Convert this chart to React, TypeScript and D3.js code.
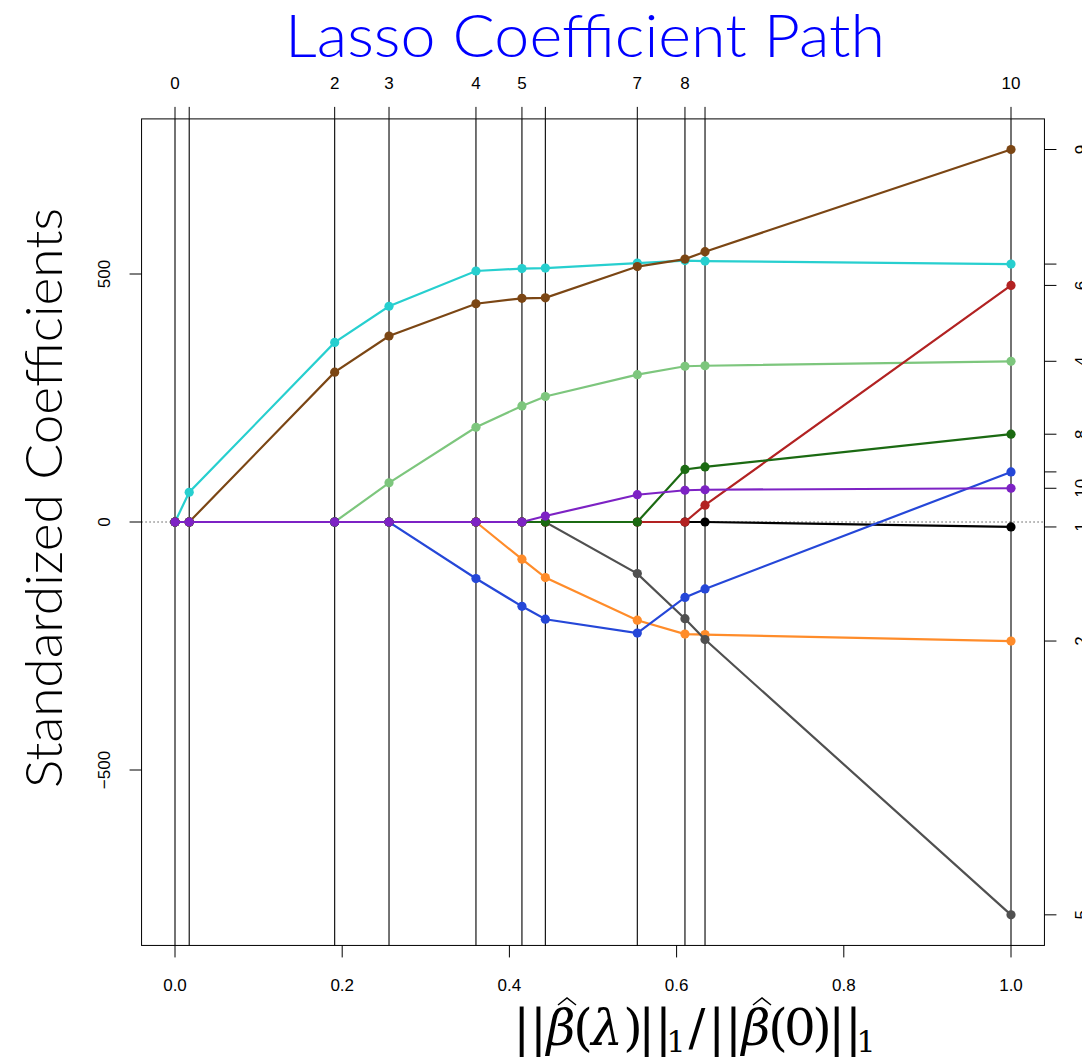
import { scaleLinear, line } from "d3";

// fraction of the L1 norm at each lars step
const steps = [0, 0.017, 0.191, 0.256, 0.36, 0.415, 0.443, 0.553, 0.61, 0.634, 1.0];
// number of active variables at each step (top axis), null = label dropped
const topLabels = ["0", null, "2", "3", "4", "5", null, "7", "8", null, "10"];

const varNames = ["1", "2", "3", "4", "5", "6", "7", "8", "9", "10"];
const varColors = [
  "#000000", "#ff8c2a", "#27cfcf", "#7dc67d", "#505050",
  "#b22222", "#2547d8", "#1b6a12", "#7b4614", "#7d22c4",
];
// coefficient paths, one array per variable
const age = [0, 0, 0, 0, 0, 0, 0, 0, 0, 0, -10];
const sex = [0, 0, 0, 0, 0, -75, -112, -198, -226, -227, -240];
const bmi = [0, 60, 362, 435, 506, 511, 512, 522, 527, 526, 520];
const map = [0, 0, 0, 79, 191, 234, 253, 297, 314, 315, 324];
const tc = [0, 0, 0, 0, 0, 0, 0, -104, -195, -237, -792];
const ldl = [0, 0, 0, 0, 0, 0, 0, 0, 0, 34, 477];
const hdl = [0, 0, 0, 0, -114, -170, -196, -224, -152, -135, 101];
const tch = [0, 0, 0, 0, 0, 0, 0, 0, 106, 111, 177];
const ltg = [0, 0, 302, 375, 440, 451, 452, 515, 530, 545, 751];
const glu = [0, 0, 0, 0, 0, 0, 12, 55, 64, 65, 68];
const paths = [age, sex, bmi, map, tc, ldl, hdl, tch, ltg, glu];
// right axis labels that R kept (3 and 7 overlap and are dropped)
const rightShown = [true, true, false, true, true, true, false, true, true, true];

const xTicks = [0, 0.2, 0.4, 0.6, 0.8, 1.0];
const yTicks = [-500, 0, 500];

const W = 1082;
const H = 1060;

// pieces of the x-axis math label: [text, centre x, italic, subscript]
const xLabelParts: [string, number, boolean, boolean][] = [
  ["||", 530, false, false],
  ["\u03B2", 561, true, false],
  ["(", 583, false, false],
  ["\u03BB", 607, true, false],
  [")", 633, false, false],
  ["||", 655, false, false],
  ["1", 676, false, true],
  ["/", 697, false, false],
  ["||", 725, false, false],
  ["\u03B2", 756, true, false],
  ["(", 778, false, false],
  ["0", 800, false, false],
  [")", 822, false, false],
  ["||", 845, false, false],
  ["1", 866, false, true],
];
const hats = [567, 762];

export default function App() {
  const x = scaleLinear().domain([0, 1]).range([175, 1011]);
  const y = scaleLinear().domain([0, 500]).range([522, 274]);
  const left = x(-0.04), right = x(1.04);
  const top = y(812.7), bottom = y(-853.7);

  const lineGen = line<number>()
    .x((_, i) => x(steps[i]))
    .y((d) => y(d));

  const tickFont = { fontFamily: "'Liberation Sans', Arial, sans-serif", fontSize: 17 };
  const sansTitle = "Lato, 'Noto Sans', sans-serif";
  const serif = "'DejaVu Serif', 'Liberation Serif', serif";

  return (
    <div style={{ position: "absolute", left: 0, top: 0 }}>
      <svg width={W} height={H} style={{ display: "block", background: "#fff" }}>
        {/* title */}
        <text x={585} y={57} textAnchor="middle" fill="#0000ff"
          style={{ fontFamily: sansTitle, fontSize: 60, fontWeight: 300 }}
          textLength={600} lengthAdjust="spacingAndGlyphs">
          Lasso Coefficient Path
        </text>

        {/* zero reference */}
        <line x1={left} x2={right} y1={y(0)} y2={y(0)} stroke="#000" strokeWidth={1} strokeDasharray="1 3" />

        {/* step lines */}
        {steps.map((s, i) => (
          <line key={"v" + i} x1={x(s)} x2={x(s)} y1={top} y2={bottom} stroke="#000" strokeWidth={1.1} />
        ))}

        {/* coefficient paths */}
        {paths.map((p, k) => (
          <g key={"p" + k}>
            <path d={lineGen(p) || ""} fill="none" stroke={varColors[k]} strokeWidth={2.2} />
            {p.map((v, i) => (
              <circle key={i} cx={x(steps[i])} cy={y(v)} r={4.6} fill={varColors[k]} />
            ))}
          </g>
        ))}

        {/* box */}
        <rect x={left} y={top} width={right - left} height={bottom - top} fill="none" stroke="#000" strokeWidth={1} />

        {/* bottom axis */}
        {xTicks.map((t) => (
          <g key={"xt" + t}>
            <line x1={x(t)} x2={x(t)} y1={bottom} y2={bottom + 12} stroke="#000" />
            <text x={x(t)} y={991} textAnchor="middle" style={tickFont}>{t.toFixed(1)}</text>
          </g>
        ))}

        {/* left axis */}
        {yTicks.map((t) => (
          <g key={"yt" + t}>
            <line x1={left} x2={left - 12} y1={y(t)} y2={y(t)} stroke="#000" />
            <text transform={`translate(110,${y(t)}) rotate(-90)`} textAnchor="middle" style={tickFont}>
              {t < 0 ? "\u2212" + Math.abs(t) : t}
            </text>
          </g>
        ))}

        {/* top axis */}
        {steps.map((s, i) => (
          <g key={"tt" + i}>
            <line x1={x(s)} x2={x(s)} y1={top} y2={top - 12} stroke="#000" />
            {topLabels[i] && (
              <text x={x(s)} y={89} textAnchor="middle" style={tickFont}>{topLabels[i]}</text>
            )}
          </g>
        ))}

        {/* right axis */}
        {paths.map((p, k) => {
          const v = p[p.length - 1];
          return (
            <g key={"rt" + k}>
              <line x1={right} x2={right + 12} y1={y(v)} y2={y(v)} stroke="#000" />
              {rightShown[k] && (
                <text transform={`translate(1087,${y(v)}) rotate(-90)`} textAnchor="middle" style={tickFont}>
                  {varNames[k]}
                </text>
              )}
            </g>
          );
        })}

        {/* axis titles */}
        <text transform="translate(62,498) rotate(-90)" textAnchor="middle"
          style={{ fontFamily: sansTitle, fontSize: 52, fontWeight: 300 }}
          textLength={580} lengthAdjust="spacingAndGlyphs">
          Standardized Coefficients
        </text>

        <g style={{ fontFamily: serif }}>
          {xLabelParts.map(([t, px, it, sub], i) => (
            <text key={"xl" + i} x={px} y={sub ? 1052 : 1045} textAnchor="middle"
              fontSize={sub ? 30 : 50} fontStyle={it ? "italic" : "normal"}>
              {t}
            </text>
          ))}
          {hats.map((h) => (
            <path key={"h" + h} d={`M${h - 9},1005 L${h},998 L${h + 9},1005`}
              fill="none" stroke="#000" strokeWidth={1.5} />
          ))}
        </g>
      </svg>
    </div>
  );
}
